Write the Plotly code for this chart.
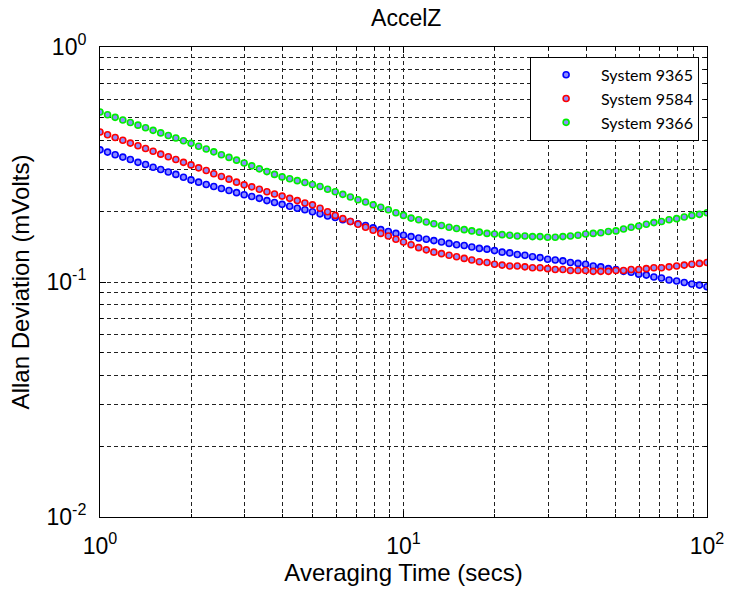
import plotly.graph_objects as go

# Averaging times (secs)
tau = [1.0, 1.059, 1.122, 1.189, 1.259, 1.334, 1.413, 1.496, 1.585, 1.679,
       1.778, 1.884, 1.995, 2.113, 2.239, 2.371, 2.512, 2.661, 2.818, 2.985,
       3.162, 3.350, 3.548, 3.758, 3.981, 4.217, 4.467, 4.732, 5.012, 5.309,
       5.623, 5.957, 6.310, 6.683, 7.079, 7.499, 7.943, 8.414, 8.913, 9.441,
       10.0, 10.59, 11.22, 11.89, 12.59, 13.34, 14.13, 14.96, 15.85, 16.79,
       17.78, 18.84, 19.95, 21.13, 22.39, 23.71, 25.12, 26.61, 28.18, 29.85,
       31.62, 33.50, 35.48, 37.58, 39.81, 42.17, 44.67, 47.32, 50.12, 53.09,
       56.23, 59.57, 63.10, 66.83, 70.79, 74.99, 79.43, 84.14, 89.13, 94.41,
       100.0]

sys_9365 = [0.365, 0.357, 0.348, 0.340, 0.332, 0.323, 0.316, 0.308, 0.301, 0.294,
            0.287, 0.279, 0.272, 0.266, 0.260, 0.255, 0.250, 0.245, 0.240, 0.235,
            0.231, 0.227, 0.222, 0.218, 0.214, 0.210, 0.206, 0.203, 0.199, 0.195,
            0.191, 0.188, 0.184, 0.181, 0.177, 0.174, 0.170, 0.167, 0.164, 0.161,
            0.158, 0.156, 0.154, 0.152, 0.150, 0.148, 0.146, 0.144, 0.143, 0.141,
            0.139, 0.138, 0.136, 0.134, 0.133, 0.131, 0.130, 0.128, 0.127, 0.125,
            0.124, 0.123, 0.121, 0.120, 0.119, 0.117, 0.116, 0.114, 0.113, 0.111,
            0.110, 0.108, 0.107, 0.105, 0.104, 0.102, 0.101, 0.0995, 0.098, 0.097,
            0.0955]

sys_9584 = [0.435, 0.423, 0.412, 0.401, 0.390, 0.380, 0.370, 0.360, 0.350, 0.341,
            0.332, 0.323, 0.315, 0.306, 0.298, 0.289, 0.281, 0.274, 0.266, 0.259,
            0.254, 0.248, 0.242, 0.237, 0.232, 0.227, 0.222, 0.217, 0.213, 0.206,
            0.199, 0.192, 0.186, 0.181, 0.176, 0.171, 0.166, 0.161, 0.157, 0.152,
            0.148, 0.144, 0.140, 0.137, 0.134, 0.132, 0.130, 0.128, 0.126, 0.124,
            0.122, 0.121, 0.119, 0.118, 0.117, 0.117, 0.116, 0.115, 0.115, 0.114,
            0.113, 0.113, 0.112, 0.112, 0.112, 0.111, 0.111, 0.111, 0.112, 0.112,
            0.113, 0.113, 0.114, 0.115, 0.115, 0.116, 0.117, 0.118, 0.119, 0.120,
            0.121]

sys_9366 = [0.529, 0.515, 0.502, 0.489, 0.477, 0.465, 0.453, 0.442, 0.431, 0.420,
            0.410, 0.399, 0.389, 0.378, 0.368, 0.358, 0.348, 0.339, 0.330, 0.321,
            0.312, 0.303, 0.295, 0.287, 0.280, 0.275, 0.270, 0.265, 0.260, 0.255,
            0.248, 0.242, 0.236, 0.230, 0.224, 0.219, 0.213, 0.208, 0.203, 0.197,
            0.192, 0.187, 0.184, 0.180, 0.177, 0.174, 0.171, 0.169, 0.167, 0.165,
            0.163, 0.161, 0.160, 0.159, 0.158, 0.157, 0.157, 0.156, 0.156, 0.155,
            0.155, 0.156, 0.157, 0.158, 0.160, 0.161, 0.162, 0.164, 0.165, 0.168,
            0.171, 0.173, 0.176, 0.179, 0.181, 0.184, 0.186, 0.189, 0.192, 0.194,
            0.197]

series_names = ["System 9365", "System 9584", "System 9366"]
series_values = [sys_9365, sys_9584, sys_9366]
edge_colors = ["#0000ff", "#ff0000", "#00ee00"]
face_color = "#8c8cff"

x_tickvals = [1, 10, 100]
x_ticktext = ["10<sup>0</sup>", "10<sup>1</sup>", "10<sup>2</sup>"]
y_tickvals = [0.01, 0.1, 1]
y_ticktext = ["10<sup>-2</sup>", "10<sup>-1</sup>", "10<sup>0</sup>"]
x_minor = [2, 3, 4, 5, 6, 7, 8, 9, 20, 30, 40, 50, 60, 70, 80, 90]
y_minor = [0.02, 0.03, 0.04, 0.05, 0.06, 0.07, 0.08, 0.09,
           0.2, 0.3, 0.4, 0.5, 0.6, 0.7, 0.8, 0.9]

FONT = "Liberation Sans, Arial, sans-serif"

fig = go.Figure()
for name, vals, col in zip(series_names, series_values, edge_colors):
    fig.add_trace(go.Scatter(
        x=tau, y=vals, name=name, mode="markers",
        marker=dict(symbol="circle", size=6, color=face_color,
                    line=dict(color=col, width=1.6)),
    ))

grid_dash = "4px,3px"
axis_common = dict(
    type="log", showline=True, linecolor="black", linewidth=1, mirror="ticks",
    ticks="inside", ticklen=6, tickcolor="black", tickwidth=1,
    showgrid=True, gridcolor="#222222", gridwidth=1, griddash=grid_dash,
    zeroline=False, tickmode="array",
    tickfont=dict(family=FONT, size=23, color="black"),
)

fig.update_xaxes(
    **axis_common, range=[0, 2], tickvals=x_tickvals, ticktext=x_ticktext,
    ticklabelstandoff=8,
    minor=dict(tickmode="array", tickvals=x_minor, ticks="inside", ticklen=3,
               tickcolor="black", showgrid=True, gridcolor="#222222",
               gridwidth=1, griddash=grid_dash),
    title=dict(text="Averaging Time (secs)", standoff=6,
               font=dict(family=FONT, size=24, color="black")),
)
fig.update_yaxes(
    **axis_common, range=[-2, 0], tickvals=y_tickvals, ticktext=y_ticktext,
    ticklabelstandoff=8,
    minor=dict(tickmode="array", tickvals=y_minor, ticks="inside", ticklen=3,
               tickcolor="black", showgrid=True, gridcolor="#222222",
               gridwidth=1, griddash=grid_dash),
    title=dict(text="Allan Deviation (mVolts)", standoff=10,
               font=dict(family=FONT, size=24, color="black")),
)

fig.update_layout(
    width=736, height=596,
    margin=dict(l=100, r=23, t=47, b=79),
    paper_bgcolor="white", plot_bgcolor="white",
    title=dict(text="AccelZ", x=0.552, xanchor="center", y=0.97,
               yanchor="middle", yref="container",
               font=dict(family=FONT, size=23, color="black")),
    legend=dict(x=0.987, xanchor="right", y=0.979, yanchor="top",
                bgcolor="white", bordercolor="black", borderwidth=1,
                font=dict(family="Lato, Open Sans, sans-serif", size=16,
                          color="black"),
                itemwidth=60, tracegroupgap=0),
    showlegend=True,
)

fig.write_html("out.html")
